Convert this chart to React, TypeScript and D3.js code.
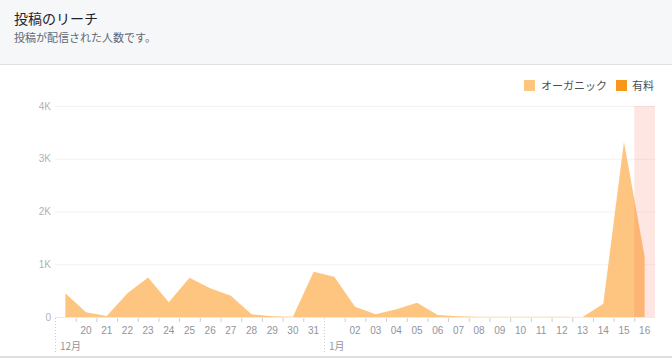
import React from "react";
import * as d3 from "d3";

const days = [
  "12-19","12-20","12-21","12-22","12-23","12-24","12-25","12-26","12-27","12-28","12-29","12-30","12-31",
  "01-01","01-02","01-03","01-04","01-05","01-06","01-07","01-08","01-09","01-10","01-11","01-12","01-13","01-14","01-15","01-16",
];
const dayLabels = [
  "", "20","21","22","23","24","25","26","27","28","29","30","31",
  "", "02","03","04","05","06","07","08","09","10","11","12","13","14","15","16",
];
const organic = [
  450, 90, 20, 450, 750, 280, 745, 545, 405, 50, 15, 5, 860,
  765, 195, 50, 145, 270, 40, 15, 5, 5, 5, 5, 5, 0, 250, 3320, 1145,
];
const yTicks = [0, 1000, 2000, 3000, 4000];
const yTickLabels = ["0", "1K", "2K", "3K", "4K"];
const months = [
  { day: "12-19", label: "12月" },
  { day: "01-01", label: "1月" },
];
const highlightDay = "01-16";

const W = 672;
const H = 358;
const FONT = "'Liberation Sans', Arial, 'Noto Sans CJK JP', sans-serif";
const CJK = "'Noto Sans CJK JP', 'Liberation Sans', sans-serif";

export default function App() {
  const x = d3.scaleBand<string>().domain(days).range([55, 655]).padding(0);
  const y = d3.scaleLinear().domain([0, 4000]).range([317, 106]);
  const cx = (d: string) => (x(d) as number) + x.bandwidth() / 2;

  const area = d3
    .area<number>()
    .x((_, i) => cx(days[i]))
    .y0(y(0))
    .y1((v) => y(v));

  const hx = x(highlightDay) as number;

  return (
    <svg
      width={W}
      height={H}
      style={{ position: "fixed", left: 0, top: 0, background: "#fff" }}
    >
      {/* header */}
      <rect x={0} y={0} width={W} height={64} fill="#f6f7f9" />
      <rect x={0} y={64} width={W} height={1} fill="#dddfe2" />
      <text x={14} y={24} fontSize={14} fill="#1d2129" fontFamily={CJK}>
        投稿のリーチ
      </text>
      <text x={14} y={42} fontSize={11} fill="#606770" fontFamily={CJK}>
        投稿が配信された人数です。
      </text>

      {/* legend */}
      <rect x={524} y={80} width={11} height={11} fill="#fec580" />
      <text x={541} y={90} fontSize={11} fill="#4b4f56" fontFamily={CJK}>
        オーガニック
      </text>
      <rect x={616} y={80} width={11} height={11} fill="#f7981d" />
      <text x={632} y={90} fontSize={11} fill="#4b4f56" fontFamily={CJK}>
        有料
      </text>

      {/* grid */}
      {yTicks.map((t, i) => (
        <g key={t}>
          {t > 0 && (
            <line x1={55} x2={655} y1={y(t) + 0.5} y2={y(t) + 0.5} stroke="#f2f2f2" />
          )}
          <text
            x={51}
            y={y(t) + 3.5}
            fontSize={10}
            fill="#b0b3b8"
            textAnchor="end"
            fontFamily={FONT}
          >
            {yTickLabels[i]}
          </text>
        </g>
      ))}

      {/* area */}
      <path d={area(organic) || ""} fill="#fec580" />

      {/* highlight */}
      <rect
        x={hx}
        y={y(4000)}
        width={x.bandwidth()}
        height={y(0) - y(4000)}
        fill="rgba(247,95,60,0.15)"
      />

      {/* x axis */}
      <line x1={55} x2={655} y1={317.5} y2={317.5} stroke="#e9ebee" />
      {days.map((d, i) => {
        const bx = x(d) as number;
        const isMonth = months.some((m) => m.day === d);
        return (
          <g key={d}>
            {isMonth ? (
              <line
                x1={bx + 0.5}
                x2={bx + 0.5}
                y1={318}
                y2={352}
                stroke="#ccd0d5"
                strokeDasharray="1,2"
              />
            ) : (
              <line x1={bx + 0.5} x2={bx + 0.5} y1={318} y2={322} stroke="#ccd0d5" />
            )}
            {dayLabels[i] && (
              <text
                x={cx(d)}
                y={334}
                fontSize={10}
                fill="#90949c"
                textAnchor="middle"
                fontFamily={FONT}
              >
                {dayLabels[i]}
              </text>
            )}
          </g>
        );
      })}
      {months.map((m) => (
        <text
          key={m.day}
          x={(x(m.day) as number) + 5}
          y={350}
          fontSize={10}
          fill="#90949c"
          fontFamily={CJK}
        >
          {m.label}
        </text>
      ))}

      {/* bottom border */}
      <rect x={0} y={356} width={W} height={2} fill="#dddfe2" />
    </svg>
  );
}
